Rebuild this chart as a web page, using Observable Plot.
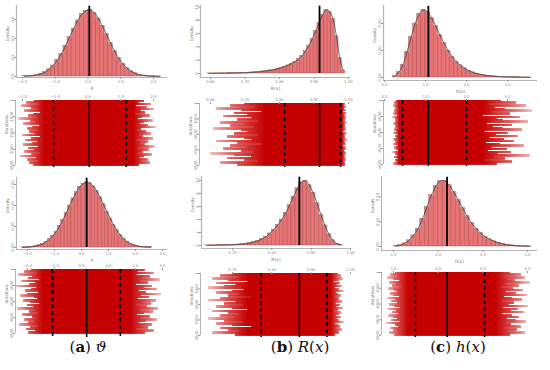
<!DOCTYPE html>
<html><head><meta charset="utf-8">
<script src="https://cdn.jsdelivr.net/npm/d3@7"></script>
<script src="https://cdn.jsdelivr.net/npm/@observablehq/plot@0.6"></script>
<style>
html,body{margin:0;padding:0;background:#fff;}
#fig{position:relative;width:550px;height:370px;overflow:hidden;background:#fff;}
.panel{position:absolute;}
.panel svg{display:block;overflow:visible;background:transparent;max-width:none;}
.cap{position:absolute;top:338px;font-family:"DejaVu Serif",serif;font-size:15px;color:#111;white-space:nowrap;transform:translateX(-50%);}
</style></head><body>
<div id="fig"></div>
<script>
// ---------- histogram densities (bin start, bin width, heights) ----------
const a1Start = -2.0, a1W = 0.125;
const a1Dens = [0.003,0.005,0.009,0.015,0.027,0.045,0.075,0.116,0.172,0.238,0.322,0.414,0.505,0.590,0.655,0.690,0.700,0.672,0.612,0.534,0.446,0.352,0.268,0.192,0.135,0.088,0.056,0.034,0.019,0.011,0.006,0.003,0.002,0.001];
const a2Start = -2.25, a2W = 0.125;
const a2Dens = [0.001,0.002,0.004,0.008,0.013,0.022,0.034,0.053,0.078,0.112,0.151,0.204,0.262,0.331,0.400,0.468,0.527,0.577,0.608,0.620,0.612,0.583,0.538,0.479,0.413,0.342,0.277,0.214,0.164,0.118,0.084,0.056,0.037,0.023,0.014,0.008,0.005,0.003,0.002];
const b1Start = 0.59, b1W = 0.01;
const b1Dens = [0.01,0.01,0.02,0.02,0.03,0.03,0.04,0.05,0.06,0.08,0.10,0.12,0.15,0.18,0.22,0.27,0.33,0.40,0.48,0.58,0.70,0.85,1.02,1.22,1.47,1.78,2.15,2.65,3.35,4.20,5.20,6.40,7.60,8.80,9.55,9.30,8.20,5.60,2.30,0.45];
const b2Start = 0.63, b2W = 0.01;
const b2Dens = [0.02,0.02,0.03,0.04,0.05,0.07,0.09,0.12,0.16,0.21,0.28,0.38,0.52,0.72,0.98,1.35,1.85,2.45,3.15,4.00,5.00,6.20,7.50,8.80,9.70,9.95,9.30,8.10,6.50,4.75,3.10,1.75,0.80,0.28,0.07];
const c1Start = 0.2, c1W = 0.1;
const c1Dens = [0.010,0.040,0.095,0.190,0.300,0.400,0.470,0.500,0.485,0.440,0.380,0.315,0.255,0.200,0.155,0.118,0.090,0.068,0.051,0.038,0.029,0.022,0.016,0.012,0.009,0.007,0.005,0.004,0.003,0.002,0.0015,0.001,0.001,0.0005];
const c2Start = 1.0, c2W = 0.1;
const c2Dens = [0.003,0.010,0.025,0.050,0.090,0.145,0.225,0.320,0.415,0.490,0.530,0.530,0.495,0.440,0.375,0.310,0.245,0.190,0.145,0.108,0.080,0.058,0.042,0.030,0.020,0.014,0.009,0.006,0.004,0.002,0.001];

// ---------- posterior means and 95% limits ----------
const a1Mean = 0.04, a1Q = [-1.05, 1.17];
const a2Mean = 0.19, a2Q = [-1.07, 1.44];
const b1Mean = 0.916, b1Q = [0.815, 0.977];
const b2Mean = 0.87, b2Q = [0.773, 0.940];
const c1Mean = 1.07, c1Q = [0.44, 2.0];
const c2Mean = 2.2, c2Q = [1.49, 3.04];

// ---------- trace extents per block of 100 iterations ----------
const aT1lo = [-1.62,-1.85,-1.48,-2.02,-1.71,-1.55,-1.92,-1.44,-1.66,-1.80,-1.52,-2.10,-1.74,-1.58,-1.95,-1.46,-1.69,-1.83,-1.50,-1.77,-1.61,-1.99,-1.43,-1.72,-1.88,-1.54,-1.67,-1.96,-1.49,-1.79,-1.63,-1.91,-1.45,-1.70,-2.05,-1.57,-1.82,-1.51,-1.76,-1.64];
const aT1hi = [1.72,1.55,1.93,1.48,1.80,2.02,1.61,1.75,1.44,1.88,1.66,1.52,1.97,1.70,1.58,1.84,2.08,1.63,1.50,1.78,1.91,1.57,1.69,1.99,1.46,1.82,1.60,1.74,2.04,1.53,1.86,1.67,1.49,1.95,1.71,1.59,1.83,1.62,1.90,1.56];
const aT2lo = [-1.85,-2.10,-1.62,-2.30,-1.78,-1.95,-1.55,-2.20,-1.70,-1.90,-2.40,-1.66,-1.82,-2.05,-1.58,-1.98,-2.25,-1.74,-1.60,-2.12,-1.88,-1.52,-2.00,-1.76,-2.35,-1.68,-1.92,-1.57,-2.15,-1.80,-1.64,-2.08,-1.72,-1.96,-2.28,-1.61,-1.86,-2.02,-1.69,-1.93];
const aT2hi = [2.35,2.10,2.70,2.05,2.55,2.25,2.90,2.15,2.45,2.00,2.62,2.30,2.80,2.12,2.40,2.95,2.20,2.50,2.08,2.75,2.28,2.58,2.03,2.42,2.85,2.18,2.65,2.33,2.06,2.52,2.22,2.78,2.38,2.14,2.60,2.26,2.48,2.02,2.68,2.36];
const bT1lo = [0.70,0.66,0.73,0.62,0.69,0.75,0.67,0.71,0.64,0.72,0.68,0.74,0.63,0.70,0.66,0.73,0.61,0.69,0.71,0.67,0.74,0.65,0.70,0.72,0.62,0.68,0.75,0.66,0.71,0.64,0.69,0.73,0.60,0.67,0.72,0.65,0.70,0.74,0.63,0.68];
const bT1hi = [0.990,0.986,0.994,0.988,0.992,0.985,0.996,0.989,0.987,0.993,0.990,0.984,0.995,0.988,0.991,0.986,0.993,0.989,0.985,0.994,0.987,0.991,0.988,0.995,0.986,0.990,0.992,0.985,0.989,0.993,0.987,0.991,0.994,0.986,0.990,0.988,0.992,0.985,0.989,0.991];
const bT2lo = [0.70,0.67,0.72,0.65,0.69,0.74,0.66,0.71,0.68,0.64,0.73,0.70,0.66,0.72,0.69,0.75,0.67,0.64,0.71,0.68,0.73,0.66,0.70,0.74,0.65,0.69,0.72,0.67,0.71,0.64,0.68,0.73,0.66,0.70,0.75,0.67,0.69,0.72,0.65,0.71];
const bT2hi = [0.968,0.975,0.962,0.980,0.970,0.958,0.973,0.966,0.978,0.961,0.971,0.983,0.964,0.969,0.976,0.960,0.972,0.967,0.979,0.963,0.974,0.965,0.981,0.968,0.959,0.977,0.970,0.962,0.975,0.966,0.972,0.984,0.961,0.969,0.974,0.964,0.978,0.967,0.971,0.960];
const cT1lo = [0.30,0.25,0.34,0.22,0.28,0.36,0.26,0.31,0.24,0.33,0.21,0.29,0.35,0.27,0.23,0.32,0.28,0.37,0.25,0.30,0.22,0.34,0.27,0.31,0.24,0.36,0.29,0.23,0.33,0.26,0.30,0.35,0.21,0.28,0.32,0.25,0.34,0.27,0.31,0.24];
const cT1hi = [2.85,3.20,2.55,3.45,2.70,2.95,3.60,2.60,3.05,2.40,3.30,2.75,2.90,3.50,2.50,3.10,2.65,2.88,3.35,2.45,3.00,2.72,3.25,2.58,2.92,3.15,2.48,2.82,3.40,2.62,2.98,2.52,3.08,2.78,3.55,2.68,2.94,2.42,3.12,2.74];
const cT2lo = [1.05,0.95,1.12,0.88,1.02,1.15,0.92,1.08,0.98,1.18,0.90,1.04,1.10,0.94,1.00,1.14,0.87,1.06,0.97,1.11,0.93,1.03,1.16,0.89,1.07,0.99,1.13,0.91,1.01,1.09,0.96,1.17,0.86,1.05,1.12,0.94,1.00,1.08,0.92,1.03];
const cT2hi = [3.60,3.85,3.45,3.95,3.55,3.72,4.05,3.50,3.80,3.40,3.68,3.90,3.52,3.75,3.98,3.48,3.65,3.88,3.42,3.70,3.58,4.00,3.46,3.78,3.62,3.92,3.44,3.66,3.82,3.54,3.74,3.96,3.50,3.64,3.86,3.47,3.76,3.56,3.94,3.60];
const iterStep = 100;

// ---------- tick labels ----------
const a1Ticks = [-2,-1,0,1,2], a2Ticks = [-2,-1,0,1,2,3];
const b1Ticks = [0.6,0.7,0.8,0.9,1.0], b2Ticks = [0.7,0.8,0.9,1.0];
const c1Ticks = [0,1,2,3], c2Ticks = [1,2,3,4];
const densTicksA = [0,0.2,0.4,0.6], densTicksB = [0,2,4,6,8,10], densTicksC = [0,0.2,0.4];
const iterTicks = [0,1000,2000,3000,4000];
const iterLabels = ["1","1000","2000","3000","4000"];
const xLabels = ["\u03d1","R(x)","h(x)"];

// ---------- layout helpers ----------
const fig = document.getElementById("fig");
const M = {l: 14, r: 14, t: 10, b: 14};
function lin(pA, vA, pB, vB) { const k = (vB - vA) / (pB - pA); return p => vA + (p - pA) * k; }
function place(node, px0, py0, w) {
  const d = document.createElement("div"); d.className = "panel";
  d.style.left = (px0 - M.l) + "px"; d.style.top = (py0 - M.t) + "px"; d.style.width = w + "px";
  d.appendChild(node); fig.appendChild(d);
}
const tickStyle = {tickSize: 2, tickPadding: 1, fontSize: 3.8, stroke: "#999", color: "#888", label: null};
const baseStyle = {fontFamily: "DejaVu Sans", background: "transparent", overflow: "visible"};

function hist(c) {
  const fx = lin(...c.xa), fy = lin(...c.ya);
  const xd = [fx(c.px0), fx(c.px1)], yd = [fy(c.py1), fy(c.py0)];
  const bins = c.dens.map((h, i) => ({x1: c.start + i * c.w, x2: c.start + (i + 1) * c.w, xm: c.start + (i + 0.5) * c.w, h}));
  const W = c.px1 - c.px0 + M.l + M.r;
  const chart = Plot.plot({
    width: W, height: c.py1 - c.py0 + M.t + M.b,
    marginLeft: M.l, marginRight: M.r, marginTop: M.t, marginBottom: M.b,
    style: baseStyle,
    x: {domain: xd}, y: {domain: yd},
    marks: [
      Plot.rectY(bins, {x1: "x1", x2: "x2", y: "h", fill: "#e67474", stroke: "#a84848", strokeWidth: 0.4}),
      Plot.line(bins, {x: "xm", y: "h", curve: "step", stroke: "#a8a8a8", strokeWidth: 0.7}),
      Plot.line(bins, {x: "xm", y: "h", curve: "natural", stroke: "#222", strokeWidth: 0.6}),
      Plot.ruleX([c.mean], {y1: 0, y2: yd[1] * 0.99, stroke: "black", strokeWidth: 1.8}),
      Plot.ruleY([yd[0]], {stroke: "#b5b5b5", strokeWidth: 1.2}),
      Plot.ruleX([xd[0]], {stroke: "#b5b5b5", strokeWidth: 1.2}),
      Plot.axisX({ticks: c.xt, ...tickStyle}),
      Plot.axisY({ticks: c.yt, tickRotate: -90, ...tickStyle}),
      Plot.text(["Density"], {text: d => d, frameAnchor: "left", dx: -9, rotate: -90, fontSize: 4, fill: "#777"}),
      Plot.text([c.xlab], {text: d => d, frameAnchor: "bottom", dy: 12, fontSize: 4.5, fill: "#777"})
    ]
  });
  place(chart, c.px0, c.py0, W);
}

let gid = 0;
function trace(c) {
  const fx = lin(...c.xa);
  const xd = [fx(c.px0), fx(c.px1)];
  const nIter = c.lo.length * iterStep;
  const fy = lin(c.rowTop, 0, c.rowBot, nIter);
  const yd = [0, fy(c.py1)];
  const rows = c.lo.map((l, i) => ({y1: i * iterStep, y2: (i + 1) * iterStep, lo: l, hi: c.hi[i]}));
  const id = "grad" + (gid++);
  const W = c.px1 - c.px0 + M.l + M.r;
  const chart = Plot.plot({
    width: W, height: c.py1 - c.py0 + M.t + M.b,
    marginLeft: M.l, marginRight: M.r, marginTop: M.t, marginBottom: M.b,
    style: baseStyle,
    x: {domain: xd}, y: {domain: yd, reverse: true},
    marks: [
      Plot.rect(rows, {x1: "lo", x2: "hi", y1: "y1", y2: "y2", fill: `url(#${id})`, stroke: `url(#${id})`, strokeWidth: 0.9, shapeRendering: "crispEdges"}),
      Plot.ruleX(c.q, {y1: 0, y2: yd[1], stroke: "black", strokeWidth: 1.6, strokeDasharray: "4,3"}),
      Plot.ruleX([c.mean], {y1: 0, y2: yd[1], stroke: "black", strokeWidth: 1.6}),
      Plot.ruleX([xd[0]], {y1: 0, y2: nIter, stroke: "#b5b5b5", strokeWidth: 1}),
      Plot.axisX({anchor: "top", ticks: c.xt, ...tickStyle}),
      Plot.axisY({ticks: iterTicks, tickFormat: (d, i) => iterLabels[i], tickRotate: -90, ...tickStyle}),
      Plot.text(["Iterations"], {text: d => d, frameAnchor: "left", dx: -9, rotate: -90, fontSize: 4, fill: "#777"})
    ]
  });
  const sx = chart.scale("x");
  const xmin = sx.apply(d3.min(c.lo)), xmax = sx.apply(d3.max(c.hi));
  const o0 = (sx.apply(c.q[0]) - xmin) / (xmax - xmin), o1 = (sx.apply(c.q[1]) - xmin) / (xmax - xmin);
  const ns = "http://www.w3.org/2000/svg";
  const defs = document.createElementNS(ns, "defs");
  const g = document.createElementNS(ns, "linearGradient");
  g.setAttribute("id", id); g.setAttribute("gradientUnits", "userSpaceOnUse");
  g.setAttribute("x1", xmin); g.setAttribute("x2", xmax); g.setAttribute("y1", 0); g.setAttribute("y2", 0);
  [[0, "#f4bcbc"], [o0 * 0.35, "#dc5252"], [o0 * 0.75, "#c40000"], [o1 + (1 - o1) * 0.25, "#c40000"], [o1 + (1 - o1) * 0.65, "#dc5252"], [1, "#f4bcbc"]]
    .forEach(([o, col]) => { const s = document.createElementNS(ns, "stop"); s.setAttribute("offset", Math.max(0, Math.min(1, o))); s.setAttribute("stop-color", col); g.appendChild(s); });
  defs.appendChild(g); chart.insertBefore(defs, chart.firstChild);
  place(chart, c.px0, c.py0, W);
}

// ---------- panels ----------
hist({px0: 16, px1: 167, py0: 5, py1: 77, xa: [22, -2, 153, 2], ya: [76, 0, 57, 0.2], start: a1Start, w: a1W, dens: a1Dens, mean: a1Mean, xt: a1Ticks, yt: densTicksA, xlab: xLabels[0]});
hist({px0: 200, px1: 350, py0: 5, py1: 77, xa: [210, 0.6, 348, 1.0], ya: [73, 0, 59.7, 2], start: b1Start, w: b1W, dens: b1Dens, mean: b1Mean, xt: b1Ticks, yt: densTicksB, xlab: xLabels[1]});
hist({px0: 383, px1: 537, py0: 5, py1: 80, xa: [384, 0, 507, 3], ya: [77, 0, 50, 0.2], start: c1Start, w: c1W, dens: c1Dens, mean: c1Mean, xt: c1Ticks, yt: densTicksC, xlab: xLabels[2]});
hist({px0: 16, px1: 167, py0: 177, py1: 249, xa: [27, -2, 162, 3], ya: [247, 0, 226, 0.2], start: a2Start, w: a2W, dens: a2Dens, mean: a2Mean, xt: a2Ticks, yt: densTicksA, xlab: xLabels[0]});
hist({px0: 201, px1: 350, py0: 176, py1: 248, xa: [232, 0.7, 350, 1.0], ya: [245, 0, 232, 2], start: b2Start, w: b2W, dens: b2Dens, mean: b2Mean, xt: b2Ticks, yt: densTicksB, xlab: xLabels[1]});
hist({px0: 381, px1: 537, py0: 176, py1: 250, xa: [393, 1, 527, 4], ya: [246, 0, 221.3, 0.2], start: c2Start, w: c2W, dens: c2Dens, mean: c2Mean, xt: c2Ticks, yt: densTicksC, xlab: xLabels[2]});

trace({px0: 15, px1: 167, py0: 100, py1: 167, rowTop: 100, rowBot: 165, xa: [22, -2, 153, 2], lo: aT1lo, hi: aT1hi, q: a1Q, mean: a1Mean, xt: a1Ticks});
trace({px0: 199, px1: 350, py0: 103, py1: 167, rowTop: 103, rowBot: 165, xa: [210, 0.6, 348, 1.0], lo: bT1lo, hi: bT1hi, q: b1Q, mean: b1Mean, xt: b1Ticks});
trace({px0: 383, px1: 537, py0: 100, py1: 166, rowTop: 100, rowBot: 164, xa: [384, 0, 507, 3], lo: cT1lo, hi: cT1hi, q: c1Q, mean: c1Mean, xt: c1Ticks});
trace({px0: 15, px1: 167, py0: 269, py1: 337, rowTop: 269, rowBot: 333, xa: [27, -2, 162, 3], lo: aT2lo, hi: aT2hi, q: a2Q, mean: a2Mean, xt: a2Ticks});
trace({px0: 200, px1: 350, py0: 273, py1: 337, rowTop: 273, rowBot: 335, xa: [232, 0.7, 350, 1.0], lo: bT2lo, hi: bT2hi, q: b2Q, mean: b2Mean, xt: b2Ticks});
trace({px0: 381, px1: 537, py0: 272, py1: 337, rowTop: 272, rowBot: 335, xa: [393, 1, 527, 4], lo: cT2lo, hi: cT2hi, q: c2Q, mean: c2Mean, xt: c2Ticks});

// ---------- captions ----------
const caps = [[88, "(<b>a</b>) <i>\u03d1</i>"], [300, "(<b>b</b>) <i>R</i>(<i>x</i>)"], [458, "(<b>c</b>) <i>h</i>(<i>x</i>)"]];
caps.forEach(([x, html]) => { const d = document.createElement("div"); d.className = "cap"; d.style.left = x + "px"; d.innerHTML = html; fig.appendChild(d); });
</script>
</body></html>
